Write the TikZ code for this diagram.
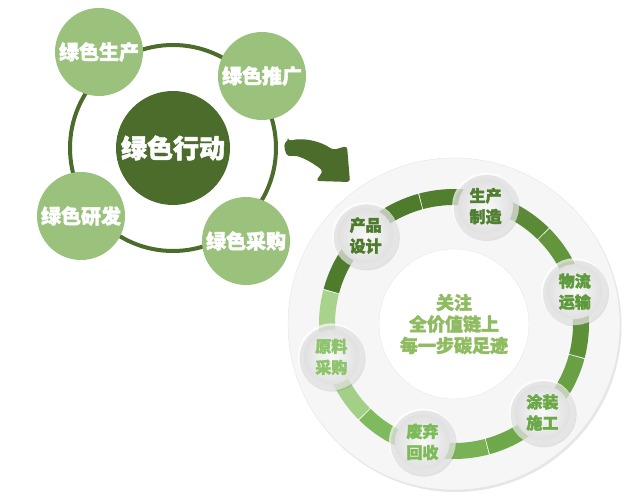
\documentclass[tikz,border=0pt]{standalone}
\usepackage{fontspec}
\newfontfamily\cjk{Noto Sans CJK SC}[BoldFeatures={FakeBold=2}]
\usetikzlibrary{positioning, calc, shadows}

\definecolor{deepgreen}{HTML}{4B6C2A}
\definecolor{leafgreen}{HTML}{9AC27D}
\definecolor{coretxt}{HTML}{8FBC60}
\definecolor{designtxt}{HTML}{4D7A2C}
\definecolor{maketxt}{HTML}{4F7F2F}
\definecolor{shiptxt}{HTML}{5E9A3C}
\definecolor{painttxt}{HTML}{6AA848}
\definecolor{recycletxt}{HTML}{7DBA5A}
\definecolor{sourcetxt}{HTML}{8CC46A}

\begin{document}
\begin{tikzpicture}[x=1pt,y=1pt]
	\tikzstyle{leaf}=[circle, fill=leafgreen, minimum size=88pt, inner sep=0pt, text=white, font=\cjk\bfseries\fontsize{20}{24}\selectfont]
	\tikzstyle{hubnode}=[circle, fill=deepgreen, minimum size=114pt, inner sep=0pt, text=white, font=\cjk\bfseries\fontsize{26}{30}\selectfont]
	\tikzstyle{disk}=[circle, minimum size=332pt, fill=gray!7, draw=gray!20, drop shadow={opacity=.2, shadow xshift=1.5pt, shadow yshift=-2pt}]
	\tikzstyle{core}=[circle, minimum size=150pt, fill=white, draw=gray!18, align=center, text=coretxt, font=\cjk\bfseries\fontsize{18}{21.5}\selectfont]
	\tikzstyle{stage}=[circle, minimum size=55pt, inner sep=0pt, align=center, shading=radial, inner color=gray!5, outer color=gray!24, preaction={draw=white, draw opacity=.7, line width=12pt}, drop shadow={opacity=.18, shadow xshift=1pt, shadow yshift=-1.5pt, shadow scale=1.2}, font=\cjk\bfseries\fontsize{16}{21}\selectfont]

	\useasboundingbox (0,0) rectangle (640,497);

	% left: green actions
	\coordinate (hub) at (173,349);
	\draw[deepgreen, line width=4pt] (hub) circle (103);
	\node[hubnode] (act) at (hub) {绿色行动};
	\node[leaf] (gprod) at (99,445) {绿色生产};
	\node[leaf] (gpush) at (262,421) {绿色推广};
	\node[leaf] (gdev) at (81,281) {绿色研发};
	\node[leaf] (gbuy) at (246,256) {绿色采购};

	% arrow
	\fill[deepgreen, rounded corners=3pt] (288,356) .. controls (305,360) and (322,355) .. (333,347) -- (347,351) -- (350,315) -- (316,316) -- (323,326) .. controls (312,335) and (300,341) .. (292,341) .. controls (285,341) and (283,353) .. (288,356) -- cycle;

	% right: value chain
	\node[disk] (disk) at (454,173) {};
	\foreach \a/\c in {135/4E7B2C,105/527F2F,75/5A8A35,45/62953C,15/5E9038,-15/68A043,-45/6EA849,-75/78B254,-105/80BA5E,-135/A3CF86,-165/A9D38C,165/4E7B2C}{
		\definecolor{segc}{HTML}{\c}
		\draw[segc, line width=16pt] ($(disk.center)+(\a:127)$) arc[start angle=\a, end angle=\a-30, radius=127];
		\draw[white, line width=1.6pt] ($(disk.center)+(\a-30:118)$) -- ($(disk.center)+(\a-30:136)$);
	}
	\node[core] (core) at (disk.center) {关注\\全价值链上\\每一步碳足迹};

	\node[stage, text=designtxt] (design) at ($(disk.center)+(135:125)$) {产品\\设计};
	\node[stage, text=maketxt] (make) at ($(disk.center)+(75:122)$) {生产\\制造};
	\node[stage, text=shiptxt] (ship) at ($(disk.center)+(15:125)$) {物流\\运输};
	\node[stage, text=painttxt] (paint) at ($(disk.center)+(-45:125)$) {涂装\\施工};
	\node[stage, text=recycletxt] (recycle) at ($(disk.center)+(-105:122)$) {废弃\\回收};
	\node[stage, text=sourcetxt] (source) at ($(disk.center)+(-165:127)$) {原料\\采购};
\end{tikzpicture}
\end{document}
